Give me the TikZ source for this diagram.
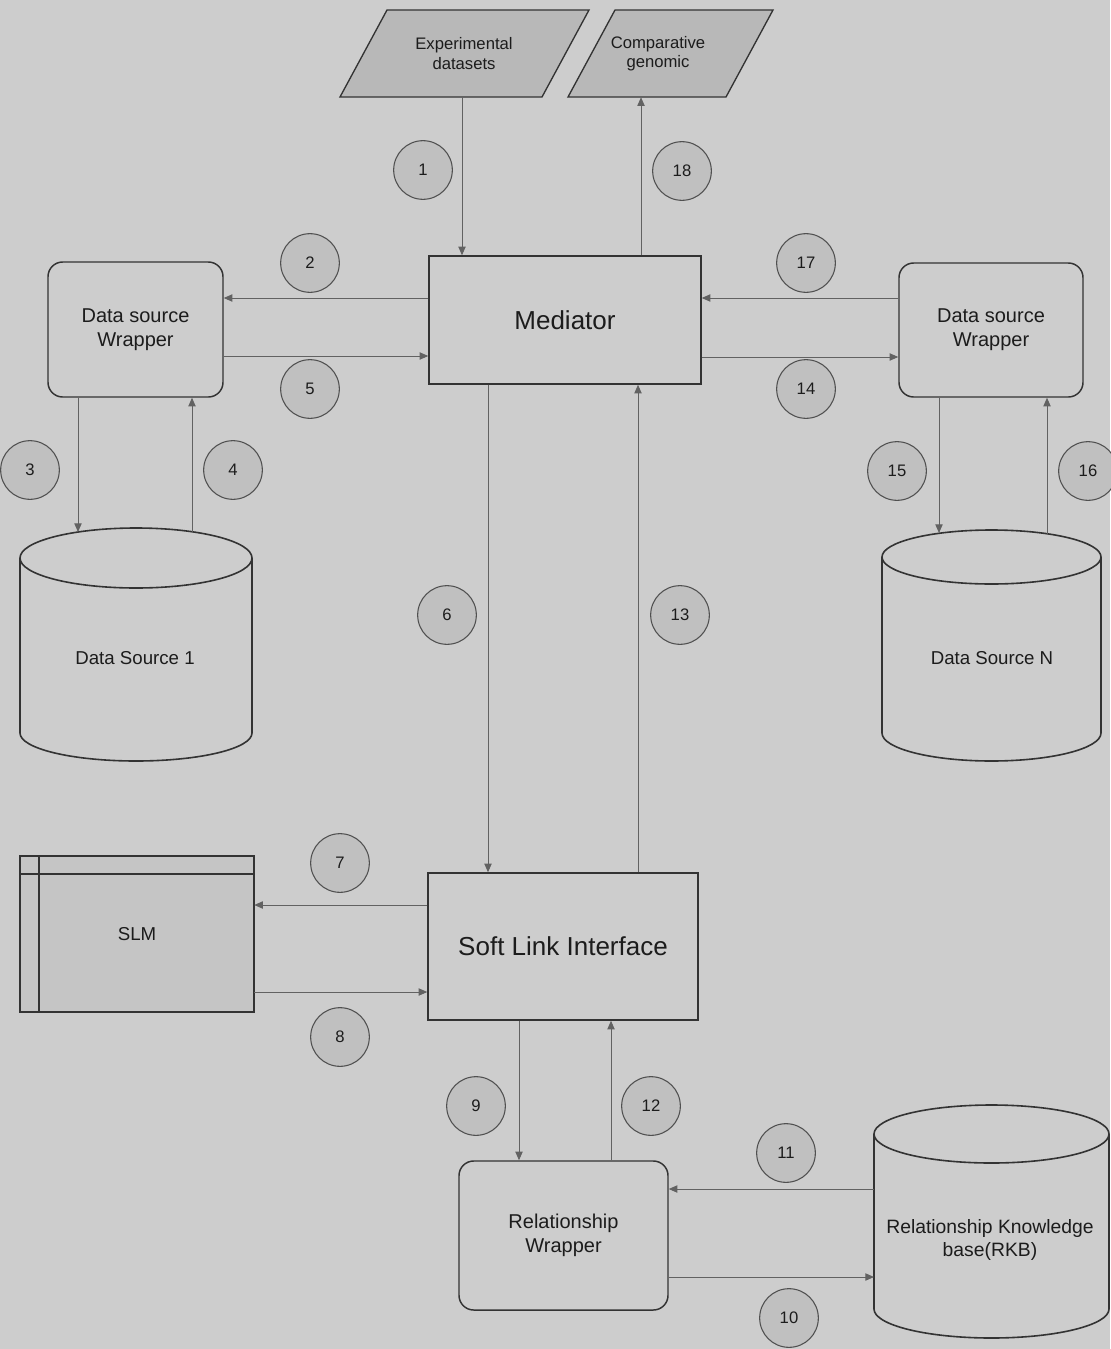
\documentclass[tikz,border=0pt]{standalone}
\usepackage{fontspec}
\setmainfont{Liberation Sans}
\usetikzlibrary{arrows.meta}

\definecolor{page}{HTML}{CDCDCD}
\definecolor{boxline}{HTML}{333333}
\definecolor{linkcol}{HTML}{626262}
\definecolor{numfill}{HTML}{C0C0C0}
\definecolor{numline}{HTML}{505050}
\definecolor{parfill}{HTML}{B8B8B8}
\definecolor{slmfill}{HTML}{C5C5C5}
\definecolor{ink}{HTML}{1C1C1C}

\begin{document}
\begin{tikzpicture}[x=0.75pt,y=-0.75pt,
  every node/.style={text=ink},
  box/.style={draw=boxline, line width=1.1pt, inner sep=0pt, align=center},
  rbox/.style={box, rounded corners=11pt},
  plain/.style={inner sep=0pt, align=center},
  num/.style={circle, draw=numline, fill=numfill, line width=0.8pt,
    minimum size=44pt, inner sep=0pt, font=\fontsize{12.5}{14}\selectfont},
  link/.style={draw=linkcol, line width=0.7pt,
    -{Triangle[length=6.5pt,width=5.5pt]}},
  shapeline/.style={draw=boxline, line width=1pt},
  big/.style={font=\fontsize{19.5}{23}\selectfont},
  mid/.style={font=\fontsize{15}{18}\selectfont},
  small/.style={font=\fontsize{14}{17}\selectfont},
  tiny/.style={font=\fontsize{12.5}{14.5}\selectfont}]

% page
\fill[page] (0,0) rectangle (1110,1349);
\useasboundingbox (0,0) rectangle (1110,1349);

% ---- input / output parallelograms
\draw[shapeline, fill=parfill] (387,10) -- (589,10) -- (542,97) -- (340,97) -- cycle;
\draw[shapeline, fill=parfill] (615,10) -- (773,10) -- (726,97) -- (568,97) -- cycle;
\node[plain, tiny, minimum height=65.25pt] (exp) at (464,53.5) {Experimental\\datasets};
\node[plain, tiny, minimum height=65.25pt] (cmp) at (658,53.5) {Comparative\\genomic};

% ---- main boxes
\node[box, big, minimum width=204pt, minimum height=96pt] (med) at (565,320) {Mediator};
\node[rbox, mid, minimum width=131.25pt, minimum height=101.25pt] (lw) at (135.5,329.5) {Data source\\Wrapper};
\node[rbox, mid, minimum width=138pt, minimum height=100.5pt] (rwr) at (991,330) {Data source\\Wrapper};
\node[box, big, minimum width=202.5pt, minimum height=110.25pt] (sli) at (563,946.5) {Soft Link Interface};
\node[rbox, mid, minimum width=156.75pt, minimum height=111.75pt] (relw) at (563.5,1235.5) {Relationship\\Wrapper};

% ---- SLM store
\draw[shapeline, fill=slmfill] (20,856) rectangle (254,1012);
\draw[boxline, line width=0.8pt] (20,874) -- (254,874) (39,856) -- (39,1012);
\node[plain, small, minimum width=175.5pt, minimum height=117pt] (slm) at (137,934) {SLM};

% ---- cylinders (data sources and knowledge base)
\draw[shapeline, line width=1.2pt, fill=page] (20,558) -- (20,733)
  arc[start angle=180, end angle=0, x radius=116, y radius=28] -- (252,558);
\draw[shapeline, line width=1.2pt, fill=page] (136,558) ellipse [x radius=116, y radius=30];
\node[plain, small] (ds1) at (135,658) {Data Source 1};

\draw[shapeline, line width=1.2pt, fill=page] (882,557) -- (882,733)
  arc[start angle=180, end angle=0, x radius=109.5, y radius=28] -- (1101,557);
\draw[shapeline, line width=1.2pt, fill=page] (991.5,557) ellipse [x radius=109.5, y radius=27];
\node[plain, small] (dsn) at (992,658) {Data Source N};

\draw[shapeline, line width=1.2pt, fill=page] (874,1134) -- (874,1309)
  arc[start angle=180, end angle=0, x radius=117.5, y radius=29] -- (1109,1134);
\draw[shapeline, line width=1.2pt, fill=page] (991.5,1134) ellipse [x radius=117.5, y radius=29];
\node[plain, font=\fontsize{14.5}{17.5}\selectfont] (rkb) at (990,1240) {Relationship Knowledge\\base(RKB)};

% ---- connector anchor points
\coordinate (c1) at (462,0);
\coordinate (c18) at (641,0);
\coordinate (y2) at (0,298);
\coordinate (y5) at (0,356);
\coordinate (y17) at (0,298);
\coordinate (y14) at (0,357);
\coordinate (ds1-in) at (78,532);
\coordinate (ds1-out) at (192,532);
\coordinate (dsn-in) at (939,533);
\coordinate (dsn-out) at (1047,534);
\coordinate (c6) at (488,0);
\coordinate (c13) at (638,0);
\coordinate (y7) at (0,905);
\coordinate (y8) at (0,992);
\coordinate (c9) at (519,0);
\coordinate (c12) at (611,0);
\coordinate (rkb-out) at (874,1189);
\coordinate (rkb-in) at (874,1277);

% ---- connectors
\draw[link] (exp.south -| c1) -- (med.north -| c1);
\draw[link] (med.north -| c18) -- (cmp.south -| c18);
\draw[link] (med.west |- y2) -- (lw.east |- y2);
\draw[link] (lw.east |- y5) -- (med.west |- y5);
\draw[link] (rwr.west |- y17) -- (med.east |- y17);
\draw[link] (med.east |- y14) -- (rwr.west |- y14);
\draw[link] (lw.south -| ds1-in) -- (ds1-in);
\draw[link] (ds1-out) -- (lw.south -| ds1-out);
\draw[link] (rwr.south -| dsn-in) -- (dsn-in);
\draw[link] (dsn-out) -- (rwr.south -| dsn-out);
\draw[link] (med.south -| c6) -- (sli.north -| c6);
\draw[link] (sli.north -| c13) -- (med.south -| c13);
\draw[link] (sli.west |- y7) -- (slm.east |- y7);
\draw[link] (slm.east |- y8) -- (sli.west |- y8);
\draw[link] (sli.south -| c9) -- (relw.north -| c9);
\draw[link] (relw.north -| c12) -- (sli.south -| c12);
\draw[link] (rkb-out) -- (relw.east |- rkb-out);
\draw[link] (relw.east |- rkb-in) -- (rkb-in);

% ---- step numbers
\node[num] (n1) at (423,170) {1};
\node[num] (n18) at (682,171) {18};
\node[num] (n2) at (310,263) {2};
\node[num] (n5) at (310,389) {5};
\node[num] (n17) at (806,263) {17};
\node[num] (n14) at (806,389) {14};
\node[num] (n3) at (30,470) {3};
\node[num] (n4) at (233,470) {4};
\node[num] (n15) at (897,471) {15};
\node[num] (n16) at (1088,471) {16};
\node[num] (n6) at (447,615) {6};
\node[num] (n13) at (680,615) {13};
\node[num] (n7) at (340,863) {7};
\node[num] (n8) at (340,1037) {8};
\node[num] (n9) at (476,1106) {9};
\node[num] (n12) at (651,1106) {12};
\node[num] (n11) at (786,1153) {11};
\node[num] (n10) at (789,1318) {10};

\end{tikzpicture}
\end{document}
